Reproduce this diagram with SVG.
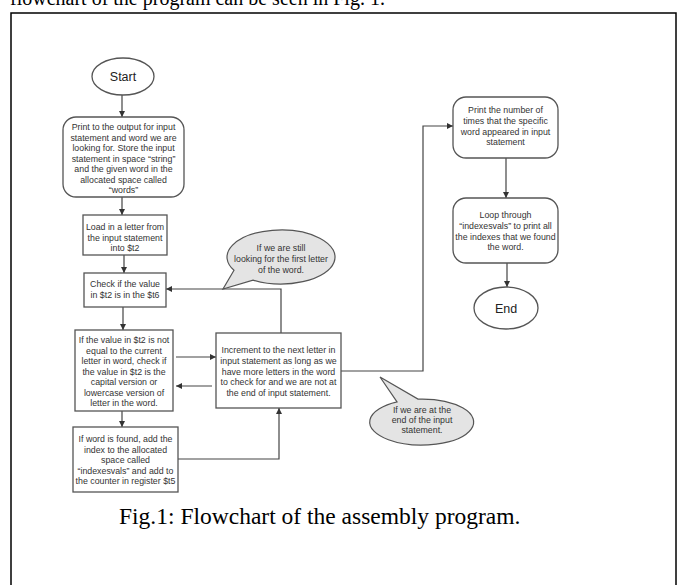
<svg xmlns="http://www.w3.org/2000/svg" width="678" height="585" viewBox="0 0 678 585">
<defs>
<marker id="ah" viewBox="0 0 10 10" refX="10" refY="5" markerWidth="6" markerHeight="6" markerUnits="userSpaceOnUse" orient="auto">
<path d="M0,0 L10,5 L0,10 Z" fill="#333"/>
</marker>
<style>
.box{fill:#fff;stroke:#555;stroke-width:1.3}
.call{fill:#e4e4e4;stroke:#555;stroke-width:1.2}
.t{font-family:"Liberation Sans",Arial,sans-serif;font-size:8.8px;fill:#333;text-anchor:middle}
.tl{font-family:"Liberation Sans",Arial,sans-serif;font-size:12.5px;fill:#222;text-anchor:middle}
.c{fill:none;stroke:#444;stroke-width:1.2}
.ca{fill:none;stroke:#444;stroke-width:1.2;marker-end:url(#ah)}
.serif{font-family:"Liberation Serif","Times New Roman",serif;fill:#000}
</style>
</defs>
<rect width="678" height="585" fill="#fff"/>
<text class="serif" x="10" y="5" font-size="20">flowchart of the program can be seen in Fig. 1.</text>
<rect x="11" y="13" width="665" height="600" fill="none" stroke="#000" stroke-width="1.5"/>

<g id="connectors">
<line class="ca" x1="122" y1="95" x2="122" y2="117"/>
<line class="ca" x1="122" y1="197" x2="122" y2="215"/>
<line class="ca" x1="124" y1="255" x2="124" y2="273"/>
<line class="ca" x1="123" y1="307" x2="123" y2="330"/>
<line class="ca" x1="176" y1="357" x2="216" y2="357"/>
<line class="ca" x1="212" y1="386" x2="176" y2="386"/>
<line class="ca" x1="122" y1="411" x2="122" y2="427"/>
<polyline class="ca" points="178,459 279,459 279,408"/>
<polyline class="ca" points="281,333 281,289 166,289"/>
<polyline class="ca" points="341,371 423,371 423,126 453,126"/>
<line class="ca" x1="506" y1="158" x2="506" y2="198"/>
<line class="ca" x1="507" y1="263" x2="507" y2="287"/>
</g>

<g id="start">
<ellipse class="box" cx="123" cy="76.5" rx="31" ry="18.5"/>
<text class="tl" x="123" y="81">Start</text>
</g>

<g id="print-input">
<rect class="box" x="63" y="117" width="121" height="80" rx="13"/>
<text class="t" x="123.5" y="130">Print to the output for input</text>
<text class="t" x="123.5" y="140.5">statement and word we are</text>
<text class="t" x="123.5" y="151">looking for.  Store the input</text>
<text class="t" x="123.5" y="161.5">statement in space “string”</text>
<text class="t" x="123.5" y="172">and the given word in the</text>
<text class="t" x="123.5" y="182.5">allocated space called</text>
<text class="t" x="123.5" y="193">“words”</text>
</g>

<g id="load">
<rect class="box" x="83" y="215" width="84" height="40"/>
<text class="t" x="125" y="230">Load in a letter from</text>
<text class="t" x="125" y="240.5">the input statement</text>
<text class="t" x="125" y="251">into $t2</text>
</g>

<g id="check">
<rect class="box" x="84" y="273" width="82" height="34"/>
<text class="t" x="125" y="287">Check if the value</text>
<text class="t" x="125" y="298">in $t2 is in the $t6</text>
</g>

<g id="compare">
<rect class="box" x="75" y="330" width="98" height="81"/>
<text class="t" x="124" y="343">If the value in $t2 is not</text>
<text class="t" x="124" y="353.5">equal to the current</text>
<text class="t" x="124" y="364">letter in word, check if</text>
<text class="t" x="124" y="374.5">the value in $t2 is the</text>
<text class="t" x="124" y="385">capital version or</text>
<text class="t" x="124" y="395.5">lowercase version of</text>
<text class="t" x="124" y="406">letter in the word.</text>
</g>

<g id="found">
<rect class="box" x="73" y="427" width="105" height="65"/>
<text class="t" x="125.5" y="442">If word is found, add the</text>
<text class="t" x="125.5" y="452.5">index to the allocated</text>
<text class="t" x="125.5" y="463">space called</text>
<text class="t" x="125.5" y="473.5">“indexesvals” and add to</text>
<text class="t" x="125.5" y="484">the counter in register $t5</text>
</g>

<g id="increment">
<rect class="box" x="216" y="333" width="125" height="75"/>
<text class="t" x="278.5" y="353">Increment to the next letter in</text>
<text class="t" x="278.5" y="364">input statement as long as we</text>
<text class="t" x="278.5" y="374.5">have more letters in the word</text>
<text class="t" x="278.5" y="385">to check for and we are not at</text>
<text class="t" x="278.5" y="396">the end of input statement.</text>
</g>

<g id="callout-first">
<path class="call" d="M234,270.3 L223,289 L253,280.1 A54,27 0 1,0 234,270.3 Z"/>
<text class="t" x="281" y="251">If we are still</text>
<text class="t" x="281" y="262">looking for the first letter</text>
<text class="t" x="281" y="273">of the word.</text>
</g>

<g id="callout-end">
<path class="call" d="M397,401.8 L380,377 L418,399.1 A52,23 0 1,1 397,401.8 Z"/>
<text class="t" x="422" y="413">If we are at the</text>
<text class="t" x="422" y="423">end of the input</text>
<text class="t" x="422" y="433">statement.</text>
</g>

<g id="print-count">
<rect class="box" x="453" y="97" width="105" height="61" rx="13"/>
<text class="t" x="505.5" y="113">Print the number of</text>
<text class="t" x="505.5" y="124">times that the specific</text>
<text class="t" x="505.5" y="135">word appeared in input</text>
<text class="t" x="505.5" y="145">statement</text>
</g>

<g id="loop">
<rect class="box" x="453" y="198" width="105" height="65" rx="13"/>
<text class="t" x="505.5" y="218">Loop through</text>
<text class="t" x="505.5" y="229">“indexesvals” to print all</text>
<text class="t" x="505.5" y="240">the indexes that we found</text>
<text class="t" x="505.5" y="250">the word.</text>
</g>

<g id="end">
<ellipse class="box" cx="506" cy="308" rx="32" ry="21"/>
<text class="tl" x="506" y="312.5">End</text>
</g>

<text class="serif" x="119" y="524" font-size="23.5">Fig.1: Flowchart of the assembly program.</text>
</svg>
